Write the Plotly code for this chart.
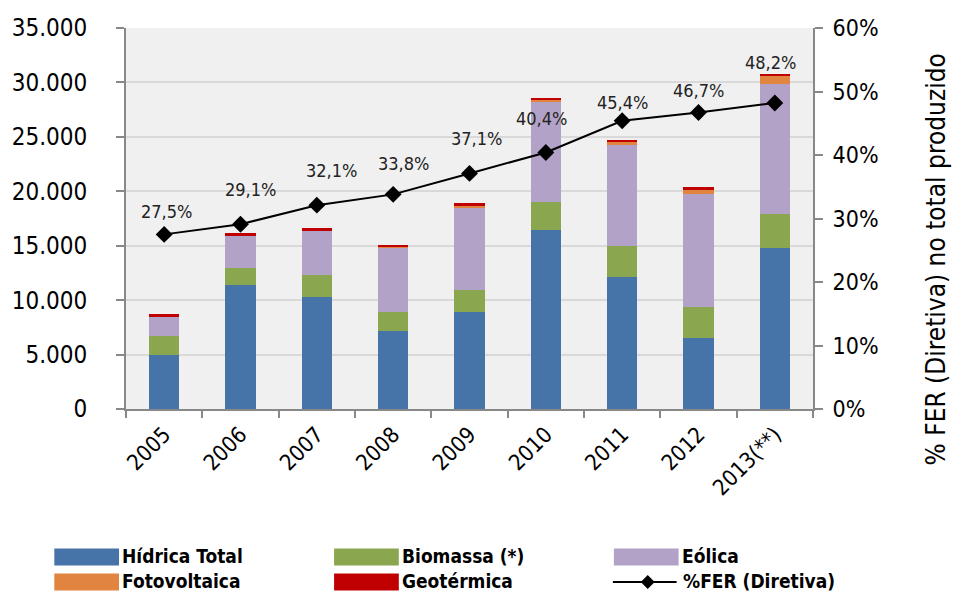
import plotly.graph_objects as go

# ---- data ----
years = ["2005", "2006", "2007", "2008", "2009", "2010", "2011", "2012", "2013(**)"]
hidrica = [5000, 11400, 10300, 7200, 8900, 16400, 12100, 6500, 14800]
biomassa = [1700, 1560, 2000, 1750, 2050, 2600, 2900, 2880, 3150]
eolica = [1770, 2940, 4070, 5850, 7600, 9200, 9250, 10400, 11900]
fotovoltaica = [5, 5, 25, 40, 160, 215, 250, 400, 700]
geotermica = [240, 230, 200, 190, 180, 200, 200, 180, 220]
fer = [0.275, 0.291, 0.321, 0.338, 0.371, 0.404, 0.454, 0.467, 0.482]

# label offsets (px) for the %FER value labels
lab_dx = [2, 10, 15, 10, 7, -4, 0, 0, -4]
lab_dy = [23, 35, 35, 31, 35, 34, 18, 22, 40]

colors = {
    "Hídrica Total": "#4673a8",
    "Biomassa (*)": "#8aa64f",
    "Eólica": "#b3a2c7",
    "Fotovoltaica": "#e0843f",
    "Geotérmica": "#c00000",
}
series = [
    ("Hídrica Total", hidrica),
    ("Biomassa (*)", biomassa),
    ("Eólica", eolica),
    ("Fotovoltaica", fotovoltaica),
    ("Geotérmica", geotermica),
]

FONT = "DejaVu Sans Condensed, Roboto, Arial"

fig = go.Figure()
for name, vals in series:
    fig.add_trace(go.Bar(x=years, y=vals, name=name, marker_color=colors[name],
                         marker_line_width=0, showlegend=False))

fig.add_trace(go.Scatter(x=years, y=fer, yaxis="y2", mode="lines+markers",
                         line=dict(color="black", width=2),
                         marker=dict(symbol="diamond", size=13, color="black"),
                         name="%FER (Diretiva)", showlegend=False))

annotations = []
for i, v in enumerate(fer):
    annotations.append(dict(
        x=i, y=v, xref="x", yref="y2", text=f"{v*100:.1f}%".replace(".", ","),
        showarrow=False, xshift=lab_dx[i], yshift=lab_dy[i],
        font=dict(family=FONT, size=18, color="#222222")))

# ---- custom legend + right title (paper coordinates) ----
L, T, W, H = 123, 28, 690, 381  # plot area in px


def px(xp):
    return (xp - L) / W


def py(yp):
    return (T + H - yp) / H


annotations.append(dict(x=px(937), y=py(259), xref="paper", yref="paper",
                        text="% FER (Diretiva) no total produzido", textangle=-90,
                        showarrow=False, xanchor="center", yanchor="middle",
                        font=dict(family=FONT, size=26, color="black")))

legend_items = [
    ("Hídrica Total", 51, 557), ("Biomassa (*)", 332, 557), ("Eólica", 613, 557),
    ("Fotovoltaica", 51, 582), ("Geotérmica", 332, 582),
]
shapes = []
for name, x0, yc in legend_items:
    shapes.append(dict(type="rect", xref="paper", yref="paper",
                       x0=px(x0), x1=px(x0 + 65), y0=py(yc + 8.5), y1=py(yc - 8.5),
                       fillcolor=colors[name], line=dict(width=0)))
    annotations.append(dict(x=px(x0 + 67), y=py(yc - 1), xref="paper", yref="paper",
                            text=f"<b>{name}</b>", showarrow=False, xanchor="left",
                            yanchor="middle", borderpad=0,
                            font=dict(family=FONT, size=19, color="black")))
# %FER legend entry
shapes.append(dict(type="line", xref="paper", yref="paper",
                   x0=px(612), x1=px(676), y0=py(582), y1=py(582),
                   line=dict(color="black", width=2)))
dpx, dpy = 7, 7
shapes.append(dict(type="path", xref="paper", yref="paper",
                   path=(f"M {px(647)},{py(582 - dpy)} L {px(647 + dpx)},{py(582)} "
                         f"L {px(647)},{py(582 + dpy)} L {px(647 - dpx)},{py(582)} Z"),
                   fillcolor="black", line=dict(width=0)))
annotations.append(dict(x=px(681), y=py(581), xref="paper", yref="paper",
                        text="<b>%FER (Diretiva)</b>", showarrow=False, xanchor="left",
                        yanchor="middle", borderpad=0,
                        font=dict(family=FONT, size=19, color="black")))

fig.update_layout(
    width=953, height=592,
    barmode="stack", bargap=0.6,
    separators=",.",
    paper_bgcolor="white", plot_bgcolor="#f0f0f0",
    margin=dict(l=123, r=140, t=28, b=183),
    font=dict(family=FONT, color="black"),
    xaxis=dict(type="category", range=[-0.5, len(years) - 0.5], showline=True,
               linecolor="#888888", linewidth=2,
               ticks="outside", tickson="boundaries", ticklen=7, tickcolor="#888888",
               tickwidth=2, tickangle=-45, tickfont=dict(size=22, family=FONT),
               showgrid=False, ticklabelstandoff=2),
    yaxis=dict(range=[0, 35000], dtick=5000, tickformat=",d", showline=True,
               linecolor="#888888", linewidth=2, ticks="outside", ticklen=8,
               tickcolor="#888888", tickwidth=2, gridcolor="#d9d9d9", gridwidth=2,
               tickfont=dict(size=24, family=FONT), zeroline=False,
               ticklabelstandoff=24),
    yaxis2=dict(range=[0, 0.6], dtick=0.1, tickformat=".0%", overlaying="y", side="right",
                showline=True, linecolor="#888888", linewidth=2, ticks="outside",
                ticklen=8, tickcolor="#888888", tickwidth=2, showgrid=False,
                zeroline=False, tickfont=dict(size=23, family=FONT),
                ticklabelstandoff=5),
    annotations=annotations,
    shapes=shapes,
)

fig.write_html("out.html", config={"displayModeBar": False},
               post_script="document.body.style.margin='0';document.body.style.overflow='hidden';")
